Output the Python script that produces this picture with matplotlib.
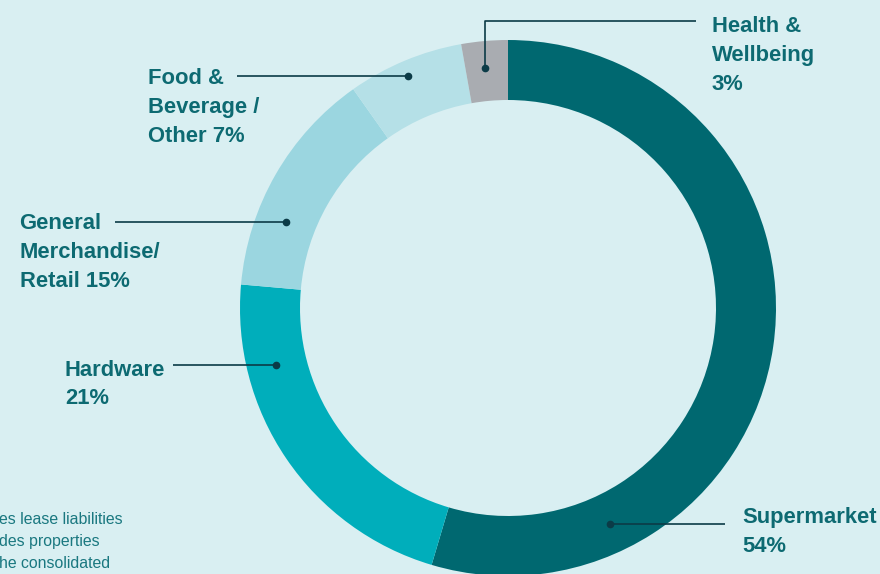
import matplotlib
matplotlib.use("Agg")
import matplotlib.pyplot as plt

# ---- data (shares as drawn, labels as printed) -------------------------------
segments = ["Supermarket", "Hardware", "General Merchandise/Retail",
            "Food & Beverage/Other", "Health & Wellbeing"]
shares = [54.6, 21.8, 13.8, 7.0, 2.8]
label_lines = [
    ["Supermarket", "54%"],
    ["Hardware", "21%"],
    ["General", "Merchandise/", "Retail 15%"],
    ["Food &", "Beverage /", "Other 7%"],
    ["Health &", "Wellbeing", "3%"],
]
footnote = ["es lease liabilities", "des properties", "he consolidated"]

# ---- palette ------------------------------------------------------------------
BG = "#d9eff2"
COLORS = ["#006870", "#00aebb", "#9bd6e0", "#b5e0e7", "#a9acb1"]
TEXT = "#0d6a72"
LEAD = "#0b3b47"

W, H = 880, 574
fig = plt.figure(figsize=(W / 100, H / 100), dpi=100, facecolor=BG)
ax = fig.add_axes([0, 0, 1, 1])
ax.set_facecolor(BG)


def Y(y):
    """pixel row (top-down) -> data y (bottom-up)"""
    return H - y


cx, cy, R = 508, 308, 268
ax.pie(shares, colors=COLORS, startangle=90, counterclock=False,
       radius=R, center=(cx, Y(cy)),
       wedgeprops=dict(width=60, linewidth=0))
ax.set_xlim(0, W)
ax.set_ylim(0, H)
ax.set_aspect("auto")
ax.axis("off")

FONT = dict(family="Liberation Sans", fontweight="bold", fontsize=15.8, color=TEXT)


def label(x, y0, lines, step=29):
    for i, s in enumerate(lines):
        ax.text(x, Y(y0 + i * step), s, ha="left", va="baseline", **FONT)


def leader(xs, ys):
    ax.plot(xs, [Y(v) for v in ys], color=LEAD, lw=1.2, solid_capstyle="butt")
    ax.plot(xs[0], Y(ys[0]), "o", color=LEAD, ms=4.5)


# ---- labels + leader lines ---------------------------------------------------
leader([610, 725], [524, 524])
label(742.5, 523.5, label_lines[0], step=28.5)

leader([276, 173], [365, 365])
label(65, 375.5, label_lines[1])

leader([286, 115], [221.5, 221.5])
label(19.5, 229, label_lines[2])

leader([408, 237], [75.5, 75.5])
label(147.5, 83.5, label_lines[3])

leader([485, 485, 696], [68, 20.5, 20.5])
label(711.5, 31.5, label_lines[4])

# ---- footnote fragment (cut off at the left edge) -----------------------------
for i, s in enumerate(footnote):
    ax.text(-1, Y(524 + i * 21.8), s, ha="left", va="baseline",
            family="Liberation Sans", fontsize=11.4, color="#1a7880")

fig.savefig("out.png", dpi=100, facecolor=BG)
